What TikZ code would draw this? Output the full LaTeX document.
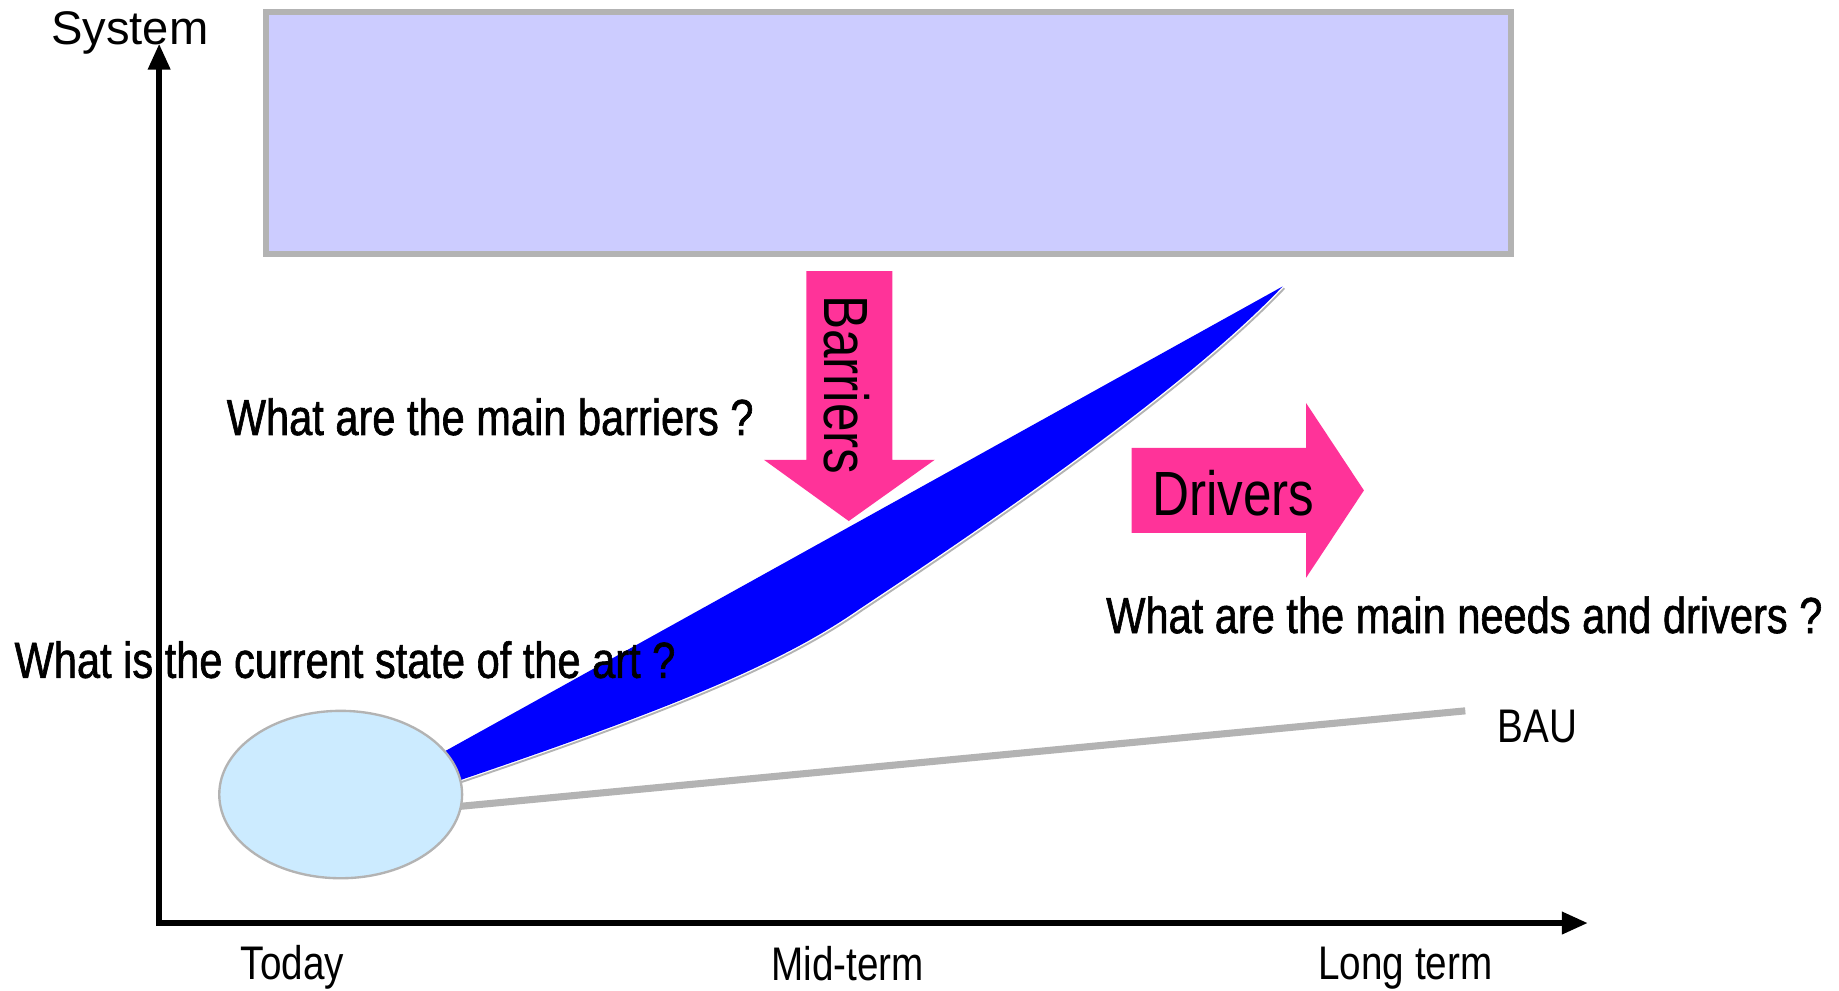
\documentclass[tikz,border=0pt]{standalone}
\usepackage{fontspec}
\setmainfont{Liberation Sans}
\newfontfamily\narrowf{Liberation Sans}[FakeStretch=0.82]
\newfontfamily\narrowheavy{Liberation Sans}[FakeStretch=0.82,FakeBold=1.2]
\usetikzlibrary{arrows.meta,shapes.geometric}
\definecolor{boxfill}{HTML}{CCCCFF}
\definecolor{edgegray}{HTML}{B3B3B3}
\definecolor{pinkarrow}{HTML}{FF3399}
\definecolor{ellfill}{HTML}{CCEBFF}
\definecolor{pureblue}{HTML}{0000FF}
\tikzset{
  lbl/.style={inner sep=0pt, anchor=base west, font=\narrowf\fontsize{20pt}{24pt}\selectfont},
  question/.style={inner sep=0pt, anchor=base west, font=\narrowheavy\fontsize{21.5pt}{26pt}\selectfont},
  big/.style={inner sep=0pt, anchor=base west, font=\narrowf\fontsize{26.5pt}{30pt}\selectfont},
  axis/.style={line width=2.5pt, {Triangle[length=11pt,width=9pt]}-{Triangle[length=11pt,width=9pt]}},
  pinkshape/.style={fill=pinkarrow, draw=none},
}
\begin{document}
\begin{tikzpicture}[x=0.5pt,y=-0.5pt]
\useasboundingbox (0,0) rectangle (1560,840);
% top box
\node[draw=edgegray, line width=2.5pt, fill=boxfill, inner sep=0pt,
      minimum width=528pt, minimum height=102.5pt] (target) at (753.5,113) {};
% axes
\coordinate (origin) at (135,783);
\coordinate (ytip) at (135,37);
\coordinate (xtip) at (1347,783);
\draw[axis] (ytip) -- (origin) -- (xtip);
% blue wedge
\coordinate (wtip) at (1088,243);
\coordinate (wup) at (340,658);
\coordinate (wbend) at (730,516);
\coordinate (wlow) at (360,672);
\fill[pureblue] (wup) -- (wtip) .. controls (1010,325) and (860,430) .. (wbend)
   .. controls (660,565) and (560,605) .. (wlow) -- cycle;
\draw[edgegray, line width=0.8pt] ([shift={(1.5,1.5)}]wtip) .. controls (1011.5,326.5) and (861.5,431.5) .. ([shift={(1.5,1.5)}]wbend)
   .. controls (661.5,566.5) and (561.5,606.5) .. ([shift={(1.5,1.5)}]wlow);
% BAU line
\coordinate (baustart) at (380,685);
\coordinate (bauend) at (1243,603);
\draw[edgegray, line width=3pt] (baustart) -- (bauend);
% today ellipse
\node[ellipse, draw=edgegray, line width=1pt, fill=ellfill, inner sep=0pt,
      minimum width=103pt, minimum height=71pt] (today) at (289,674) {};
% Barriers arrow
\fill[pinkshape] (684,230) -- (757,230) -- (757,390) -- (793,390) -- (720,442) -- (648,390) -- (684,390) -- cycle;
\node[big, rotate=-90] (barriers) at (699,250) {Barriers};
% Drivers arrow
\fill[pinkshape] (960,380) -- (1108,380) -- (1108,342) -- (1157,416) -- (1108,490) -- (1108,452) -- (960,452) -- cycle;
\node[big] (drivers) at (977,437) {Drivers};
% texts
\node[inner sep=0pt, anchor=base west, font=\fontsize{20pt}{24pt}\selectfont] (system) at (43,38) {System};
\node[question] (qbar) at (192,369) {What are the main barriers ?};
\node[question] (qstate) at (12,575) {What is the current state of the art ?};
\node[question] (qneeds) at (938,537) {What are the main needs and drivers ?};
\node[lbl] (bau) at (1270,630) {BAU};
\node[lbl] (ltoday) at (204,831) {Today};
\node[lbl] (lmid) at (654,832) {Mid-term};
\node[lbl] (llong) at (1118,831) {Long term};
\end{tikzpicture}
\end{document}
